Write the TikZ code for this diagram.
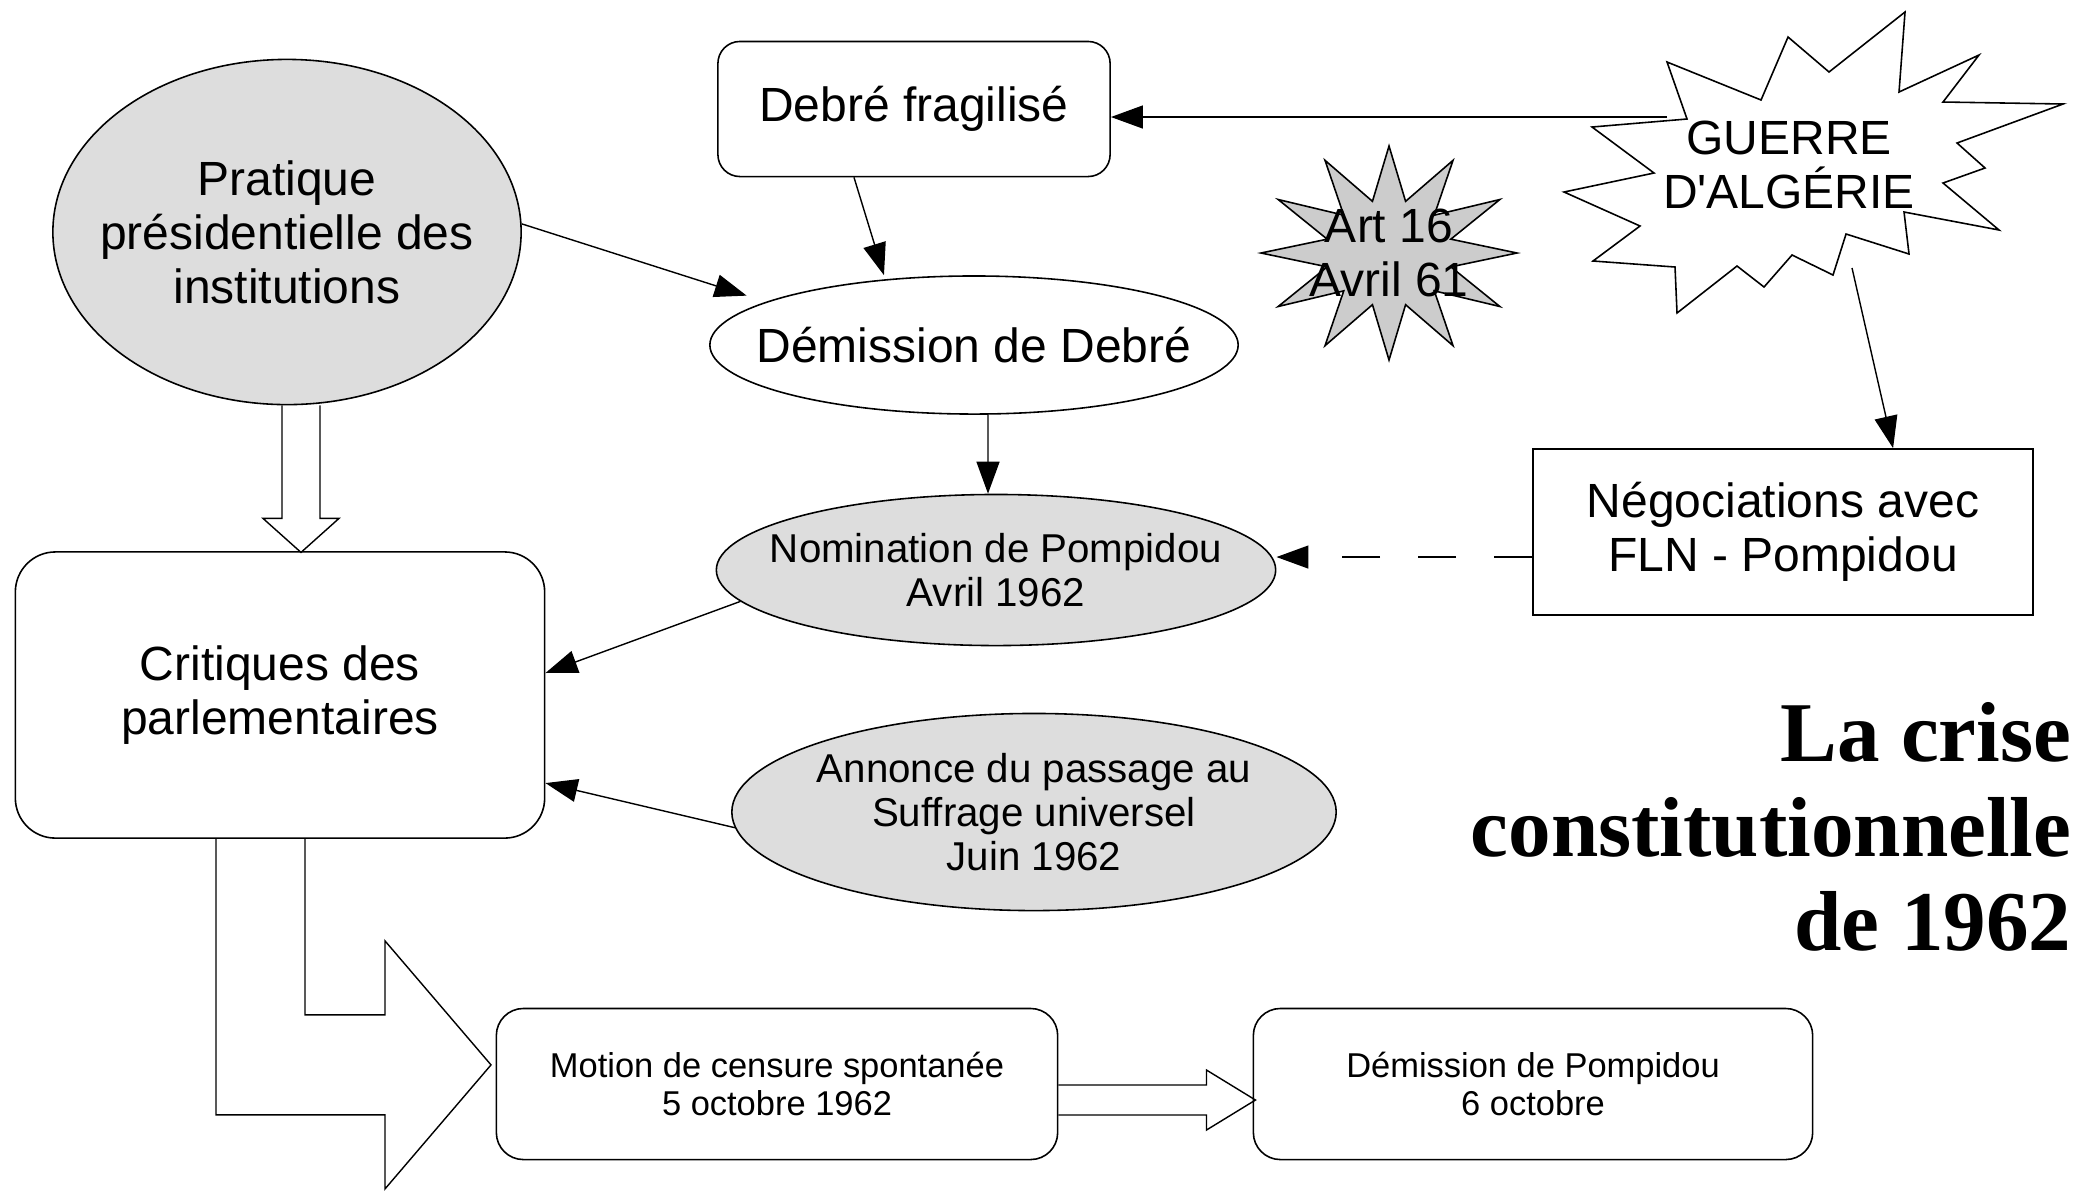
\documentclass[tikz,border=0pt]{standalone}
\usepackage{fontspec}
\setmainfont{Liberation Sans}[Ligatures=TeXOff]
\newfontfamily\titlefont{Liberation Serif}
\usepackage{tikz}
\usetikzlibrary{positioning,shapes.geometric,arrows.meta}
\definecolor{ovalgray}{HTML}{DDDDDD}
\definecolor{stargray}{HTML}{CCCCCC}
\tikzstyle{arrow} = [line width=0.4pt,->,>={Triangle[length=3.2mm,width=2.3mm]}]

\begin{document}
\begin{tikzpicture}[x=0.01cm, y=-0.01cm, line width=0.45pt]
	\tikzstyle{bigtext} = [font=\fontsize{13.65}{15.4}\selectfont, align=center]
	\tikzstyle{midtext} = [font=\fontsize{11.45}{12.5}\selectfont, align=center]
	\tikzstyle{smalltext} = [font=\fontsize{9.8}{10.9}\selectfont, align=center]
	\tikzstyle{oval} = [ellipse, draw=black, fill=ovalgray, inner xsep=-0.6cm, inner ysep=-0.2cm]
	\tikzstyle{box} = [rectangle, draw=black, fill=white, rounded corners=0.27cm]
	\tikzstyle{hollow} = [draw=black, line width=0.4pt]
	\tikzstyle{dasharrow} = [arrow, dash pattern=on 3.8mm off 3.8mm]
	\useasboundingbox (0,0) rectangle (2080,1190);

	% shapes that are drawn by hand
	\draw [fill=white] (1667,62) -- (1761,100) -- (1788,37) -- (1829,72) -- (1905,12) -- (1899,92) -- (1979,55) -- (1943,102) -- (2063,104) -- (1957,143) -- (1985,168) -- (1943,183) -- (1999,230) -- (1904,212) -- (1909,254) -- (1846,234) -- (1833,275) -- (1792,255) -- (1764,287) -- (1737,266) -- (1677,313) -- (1675,267) -- (1593,261) -- (1640,226) -- (1564,192) -- (1654,173) -- (1592,127) -- (1687,119) -- cycle;
	\draw [fill=stargray] plot[samples at={0,15,...,345}, variable=\a] ({1389+128*ifthenelse(mod(\a,30)==0,1,0.5)*cos(\a)}, {253+107*ifthenelse(mod(\a,30)==0,1,0.5)*sin(\a)}) -- cycle;

	\node (practice) [oval, bigtext, minimum width=4.68cm, minimum height=3.45cm] at (287,232) {Pratique\\présidentielle des\\institutions};
	\node (weakened) [box, bigtext, rounded corners=0.22cm, minimum width=3.92cm, minimum height=1.35cm] at (914,109) {Debré fragilisé};
	\node (resignation) [oval, fill=white, bigtext, minimum width=5.28cm, minimum height=1.38cm] at (974,345) {Démission de Debré};
	\node (nomination) [oval, midtext, minimum width=5.59cm, minimum height=1.51cm] at (996,570) {Nomination de Pompidou\\Avril 1962};
	\node (negotiations) [rectangle, draw=black, bigtext, minimum width=5cm, minimum height=1.66cm] at (1783,532) {Négociations avec\\FLN - Pompidou};
	\node (war) [bigtext] at (1789,165) {GUERRE\\D'ALGÉRIE};
	\node (art16) [bigtext] at (1389,253) {Art 16\\Avril 61};
	\node (critics) [box, bigtext, rounded corners=0.4cm, minimum width=5.29cm, minimum height=2.86cm] at (280,695) {Critiques des\\parlementaires};
	\node (announcement) [oval, midtext, minimum width=6.04cm, minimum height=1.97cm] at (1034,812) {Annonce du passage au\\Suffrage universel\\Juin 1962};
	\node (motion) [box, smalltext, minimum width=5.61cm, minimum height=1.51cm] at (777,1084) {Motion de censure spontanée\\5 octobre 1962};
	\node (resignation2) [box, smalltext, minimum width=5.59cm, minimum height=1.51cm] at (1533,1084) {Démission de Pompidou\\6 octobre};
	\node (title) [anchor=east, align=right, inner sep=0pt, font=\titlefont\bfseries\fontsize{24.2}{26.8}\selectfont] at (2072,827) {La crise\\constitutionnelle\\de 1962};

	\coordinate (warW) at (1667,117);
	\coordinate (warS) at (1852,268);
	\coordinate (negoW) at ([yshift=-0.25cm]negotiations.west);
	\draw [arrow] (warW) -- (warW -| weakened.east);
	\draw [arrow] ([xshift=-0.6cm]weakened.south) -- ([xshift=-0.9cm]resignation.north);
	\draw [arrow] (practice.2) -- ([xshift=-0.4cm]resignation.north west);
	\draw [arrow] ([xshift=1.4mm]resignation.south) -- ([xshift=-0.8mm]nomination.north);
	\draw [arrow] (warS) -- ([xshift=1.1cm]negotiations.north);
	\draw [dasharrow] (negoW) -- (negoW -| nomination.east);
	\draw [arrow] (nomination.187) -- ([yshift=0.22cm]critics.east);
	\draw [arrow] (announcement.183) -- ([yshift=-0.88cm]critics.east);

	% block arrows
	\draw [hollow] ([xshift=-0.5mm]practice.south) -- ++(0,113) -- ++(-19,0) -- ++(38,34) -- ++(38,-34) -- ++(-19,0) -- ++(0,-113);
	\draw [hollow] ([xshift=2.5mm]critics.south) -- ++(0,176) -- ++(80,0) -- ++(0,-74) -- ++(106,124) -- ++(-106,124) -- ++(0,-74) -- ++(-169,0) -- ++(0,-276);
	\draw [hollow] ([yshift=-0.1mm]motion.east) -- ++(148,0) -- ++(0,-15) -- ++(49,30) -- ++(-49,30) -- ++(0,-15) -- ++(-148,0);
\end{tikzpicture}
\end{document}
